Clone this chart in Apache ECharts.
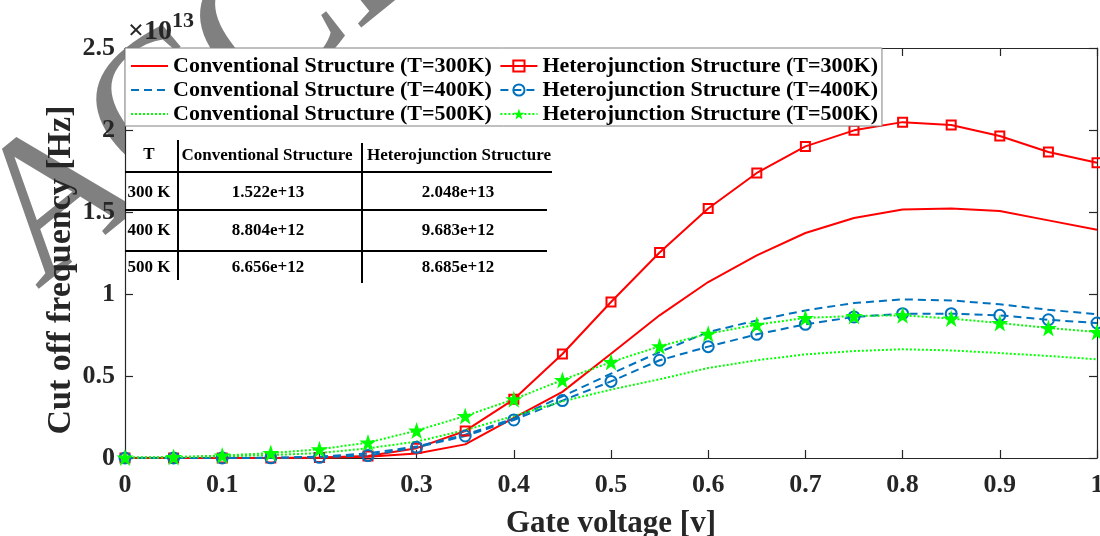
<!DOCTYPE html>
<html>
<head>
<meta charset="utf-8">
<script src="https://cdn.jsdelivr.net/npm/echarts@6/dist/echarts.min.js"></script>
<style>
html,body{margin:0;padding:0;background:#fff;}
#chart{width:1100px;height:536px;}
</style>
</head>
<body>
<div id="chart"></div>
<script>
// ---- data (values in units of 1e13 Hz) ----
const gateVoltage = [0,0.05,0.1,0.15,0.2,0.25,0.3,0.35,0.4,0.45,0.5,0.55,0.6,0.65,0.7,0.75,0.8,0.85,0.9,0.95,1];
const conv300 = [0,0,0,0,0.002,0.008,0.028,0.083,0.245,0.403,0.636,0.870,1.073,1.236,1.372,1.463,1.515,1.522,1.506,1.449,1.392];
const het300  = [0,0,0,0,0.003,0.012,0.060,0.165,0.358,0.634,0.951,1.253,1.521,1.738,1.900,1.998,2.048,2.030,1.963,1.866,1.800];
const conv400 = [0,0,0,0.001,0.008,0.028,0.070,0.142,0.240,0.376,0.514,0.646,0.768,0.839,0.900,0.945,0.967,0.961,0.937,0.904,0.876];
const het400  = [0,0,0,0.001,0.004,0.015,0.065,0.134,0.232,0.350,0.467,0.596,0.679,0.754,0.815,0.860,0.880,0.880,0.870,0.843,0.823];
const conv500 = [0.002,0.004,0.010,0.018,0.030,0.059,0.100,0.170,0.256,0.345,0.417,0.480,0.549,0.596,0.632,0.652,0.663,0.656,0.640,0.622,0.602];
const het500  = [0.003,0.006,0.015,0.030,0.053,0.094,0.167,0.256,0.358,0.476,0.585,0.681,0.758,0.813,0.854,0.866,0.870,0.850,0.823,0.793,0.768];

const seriesNames = [
  'Conventional Structure (T=300K)', 'Heterojunction Structure (T=300K)',
  'Conventional Structure (T=400K)', 'Heterojunction Structure (T=400K)',
  'Conventional Structure (T=500K)', 'Heterojunction Structure (T=500K)'
];
const xTickLabels = ['0','0.1','0.2','0.3','0.4','0.5','0.6','0.7','0.8','0.9','1'];
const yTickLabels = ['0','0.5','1','1.5','2','2.5'];
const xAxisTitle = 'Gate voltage [v]';
const yAxisTitle = 'Cut off frequency [Hz]';
const yExponent = '13';

const tableHeader = ['T', 'Conventional Structure', 'Heterojunction Structure'];
const tableRows = [
  ['300 K', '1.522e+13', '2.048e+13'],
  ['400 K', '8.804e+12', '9.683e+12'],
  ['500 K', '6.656e+12', '8.685e+12']
];
const watermarkText = 'ACCEPTED MANUSCRIPT';

// ---- build ----
const FONT = 'Liberation Serif';
const RED = '#ff0000', BLUE = '#0072bd', GREEN = '#00ff00';
const STAR = 'path://M50,2 L61.8,37.6 L99,37.6 L69,59.6 L80.4,95 L50,73.2 L19.6,95 L31,59.6 L1,37.6 L38.2,37.6 Z';
const pairs = arr => gateVoltage.map((x, i) => [x, arr[i]]);

function mkSeries(name, data, color, lineType, symbol, symbolSize, filled) {
  const s = {
    name, type: 'line', data: pairs(data),
    xAxisIndex: 0, yAxisIndex: 0,
    lineStyle: { color, width: 2, type: lineType },
    emphasis: { disabled: true },
    animation: false
  };
  if (symbol) {
    s.symbol = symbol; s.symbolSize = symbolSize; s.showSymbol = true;
    s.itemStyle = { color: filled ? color : 'rgba(0,0,0,0)', borderColor: color, borderWidth: filled ? 0 : 2 };
  } else {
    // no markers: invisible symbol so the legend shows only the line
    s.symbol = 'circle'; s.symbolSize = 1; s.showSymbol = false;
    s.itemStyle = { color: 'rgba(0,0,0,0)', borderColor: 'rgba(0,0,0,0)', borderWidth: 0 };
  }
  return s;
}

const series = [
  mkSeries(seriesNames[0], conv300, RED, 'solid', null),
  mkSeries(seriesNames[1], het300, RED, 'solid', 'rect', 9, false),
  mkSeries(seriesNames[2], conv400, BLUE, [8, 5], null),
  mkSeries(seriesNames[3], het400, BLUE, [8, 5], 'circle', 11, false),
  mkSeries(seriesNames[4], conv500, GREEN, [2, 2], null),
  mkSeries(seriesNames[5], het500, GREEN, [2, 2], STAR, 17, true)
];

// table graphics
const tbl = [];
const tLine = (x1, y1, x2, y2) => tbl.push({ type: 'line', shape: { x1, y1, x2, y2 }, style: { stroke: '#000', lineWidth: 2 }, z: 10 });
tLine(125, 172, 552, 172);
tLine(125, 210, 547, 210);
tLine(125, 251, 547, 251);
tLine(178, 140, 178, 280);
tLine(362, 143, 362, 283);
const tText = (t, x, y) => tbl.push({ type: 'text', x, y, z: 10,
  style: { text: t, font: 'bold 17px "' + FONT + '"', fill: '#000', align: 'center', verticalAlign: 'middle', textAlign: 'center', textVerticalAlign: 'middle' } });
const colX = [149, 268, 458];
const rowY = [193, 231, 268];
tText(tableHeader[0], colX[0], 155);
tText(tableHeader[1], 267, 156);
tText(tableHeader[2], 459, 156);
tableRows.forEach((r, i) => r.forEach((c, j) => tText(c, j === 0 ? 149 : colX[j], rowY[i])));

const axisLineStyle = { color: '#262626', width: 1.2 };
const chart = echarts.init(document.getElementById('chart'), null, { renderer: 'canvas' });
chart.setOption({
  animation: false,
  backgroundColor: '#fff',
  grid: { left: 125, right: 3, top: 48, bottom: 78, show: true, backgroundColor: '#fff', borderWidth: 0,
          containLabel: false, outerBoundsMode: 'none' },
  legend: {
    data: seriesNames,
    left: 125, top: 48, width: 780,
    orient: 'horizontal',
    padding: [7, 4, 1, 5],
    itemGap: 2,
    itemWidth: 37, itemHeight: 14,
    backgroundColor: '#fff', borderColor: '#808080', borderWidth: 1,
    formatter: name => name.indexOf('Conventional') === 0 ? name + '\u00a0' : name,
    textStyle: { fontFamily: FONT, fontWeight: 'bold', fontSize: 22, color: '#000' },
    selectedMode: false
  },
  xAxis: [
    { type: 'value', position: 'bottom', min: 0, max: 1, interval: 0.1,
      axisLine: { show: true, onZero: false, lineStyle: axisLineStyle },
      axisTick: { show: true, inside: true, length: 8, lineStyle: axisLineStyle },
      splitLine: { show: false },
      axisLabel: { margin: 14, fontFamily: FONT, fontWeight: 'bold', fontSize: 26, color: '#262626',
        formatter: v => xTickLabels[Math.round(v * 10)] },
      name: xAxisTitle, nameLocation: 'middle', nameGap: 50,
      nameTextStyle: { fontFamily: FONT, fontWeight: 'bold', fontSize: 31, color: '#262626' } },
    { type: 'value', position: 'top', min: 0, max: 1, interval: 0.1,
      axisLine: { show: true, onZero: false, lineStyle: axisLineStyle },
      axisTick: { show: true, inside: true, length: 8, lineStyle: axisLineStyle },
      splitLine: { show: false }, axisLabel: { show: false } }
  ],
  yAxis: [
    { type: 'value', position: 'left', min: 0, max: 2.5, interval: 0.5,
      axisLine: { show: true, onZero: false, lineStyle: axisLineStyle },
      axisTick: { show: true, inside: true, length: 8, lineStyle: axisLineStyle },
      splitLine: { show: false },
      axisLabel: { margin: 10, fontFamily: FONT, fontWeight: 'bold', fontSize: 26, color: '#262626',
        formatter: v => yTickLabels[Math.round(v * 2)] } },
    { type: 'value', position: 'right', min: 0, max: 2.5, interval: 0.5,
      axisLine: { show: true, onZero: false, lineStyle: axisLineStyle },
      axisTick: { show: true, inside: true, length: 8, lineStyle: axisLineStyle },
      splitLine: { show: false }, axisLabel: { show: false } }
  ],
  graphic: [
    { type: 'text', x: 67, y: 327, rotation: 39 * Math.PI / 180, z: -5, silent: true,
      style: { text: watermarkText, font: '200px "' + FONT + '"', fill: '#808080',
        align: 'left', verticalAlign: 'bottom', textAlign: 'left', textVerticalAlign: 'bottom' } },
    { type: 'text', x: 61, y: 270, rotation: Math.PI / 2, z: 5, silent: true,
      style: { text: yAxisTitle, font: 'bold 34px "' + FONT + '"', fill: '#262626',
        align: 'center', verticalAlign: 'middle', textAlign: 'center', textVerticalAlign: 'middle' } },
    { type: 'text', x: 128, y: 46, z: 10,
      style: { text: '{a|×10}{b|' + yExponent + '}', font: 'bold 28px "' + FONT + '"', fill: '#262626',
        align: 'left', verticalAlign: 'bottom', textAlign: 'left', textVerticalAlign: 'bottom',
        rich: { a: { fontFamily: FONT, fontWeight: 'bold', fontSize: 28, color: '#262626', verticalAlign: 'bottom' },
                b: { fontFamily: FONT, fontWeight: 'bold', fontSize: 22, color: '#262626', verticalAlign: 'top', padding: [0,0,14,0] } } } },
    ...tbl
  ],
  series
});
</script>
</body>
</html>
